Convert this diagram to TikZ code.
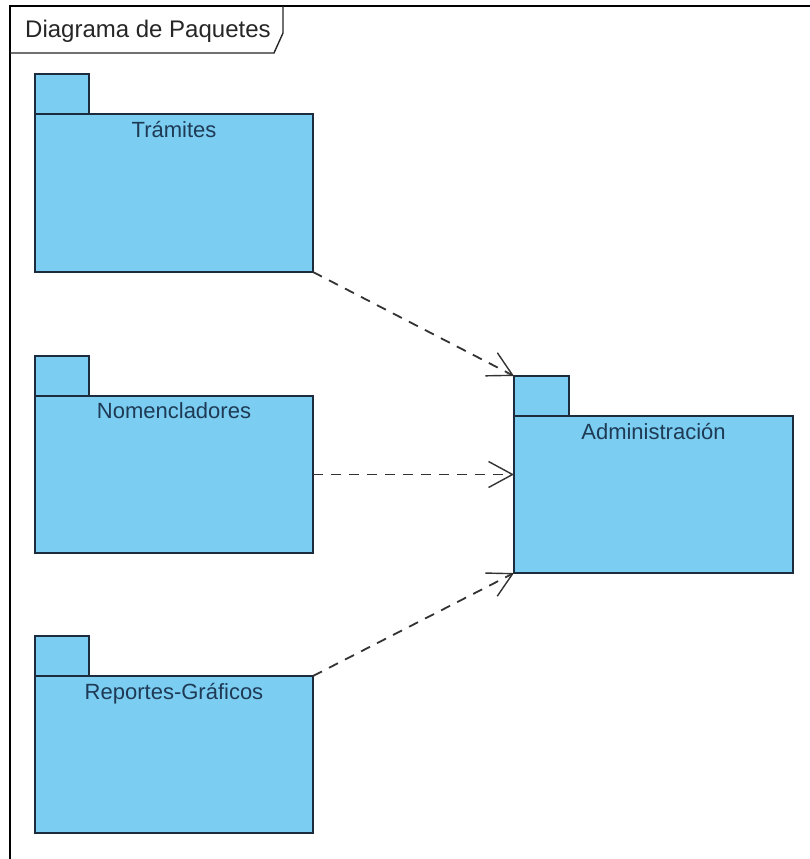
\documentclass[tikz,border=0pt]{standalone}
\usepackage{fontspec}
\setmainfont{Liberation Sans}
\usetikzlibrary{arrows.meta}
\definecolor{pkgfill}{HTML}{7BCDF1}
\definecolor{pkgline}{HTML}{1C2C3C}
\definecolor{pkgtext}{HTML}{1E3A55}
\definecolor{depline}{HTML}{333333}
\tikzset{
  pkgbody/.style={draw=pkgline, fill=pkgfill, line width=1.5pt, inner sep=0pt, outer sep=0pt, anchor=north west},
  pkgtab/.style={draw=pkgline, fill=pkgfill, line width=1.5pt, inner sep=0pt, outer sep=0pt, anchor=south west,
                 minimum width=54pt, minimum height=40pt},
  pkglabel/.style={text=pkgtext, font=\fontsize{22}{26}\selectfont, anchor=north, inner sep=0pt},
  dep/.style={draw=depline, line width=1.8pt, dash pattern=on 10pt off 8pt,
              -{Straight Barb[length=24pt, width=26pt, line width=1.4pt]}},
  frameline/.style={draw=black, line width=1.8pt},
  tabline/.style={draw=black!85, line width=1.4pt}
}
\begin{document}
\begin{tikzpicture}[x=1pt, y=-1pt]
  \useasboundingbox[fill=white] (0,0) rectangle (809,859);

  % diagram frame and its title tab
  \draw[frameline] (10,870) -- (10,6) -- (820,6);
  \draw[tabline] (10,53) -- (274,53) -- (283,33) -- (283,6);
  \node[anchor=west, inner sep=0pt, text=black!85, font=\fontsize{24}{28}\selectfont] (title) at (25,31) {Diagrama de Paquetes};

  % packages on the left
  \node[pkgbody, minimum width=278pt, minimum height=158pt] (tram) at (35,114) {};
  \node[pkgtab] (tramtab) at (tram.north west) {};
  \node[pkglabel] (tramlbl) at ([yshift=-7pt]tram.north) {Trámites};

  \node[pkgbody, minimum width=278pt, minimum height=157pt] (nom) at (35,396) {};
  \node[pkgtab] (nomtab) at (nom.north west) {};
  \node[pkglabel] (nomlbl) at ([yshift=-6pt]nom.north) {Nomencladores};

  \node[pkgbody, minimum width=278pt, minimum height=157pt] (rep) at (35,676) {};
  \node[pkgtab] (reptab) at (rep.north west) {};
  \node[pkglabel] (replbl) at ([yshift=-7pt]rep.north) {Reportes-Gráficos};

  % target package
  \node[pkgbody, minimum width=279pt, minimum height=157pt] (adm) at (514,416) {};
  \node[pkgtab, minimum width=55pt] (admtab) at (adm.north west) {};
  \node[pkglabel] (admlbl) at ([yshift=-7pt]adm.north) {Administración};

  % dependencies
  \draw[dep] (tram.south east) -- (admtab.north west);
  \draw[dep] (nom.east) -- (nom.east -| adm.west);
  \draw[dep] (rep.north east) -- (adm.south west);
\end{tikzpicture}
\end{document}
